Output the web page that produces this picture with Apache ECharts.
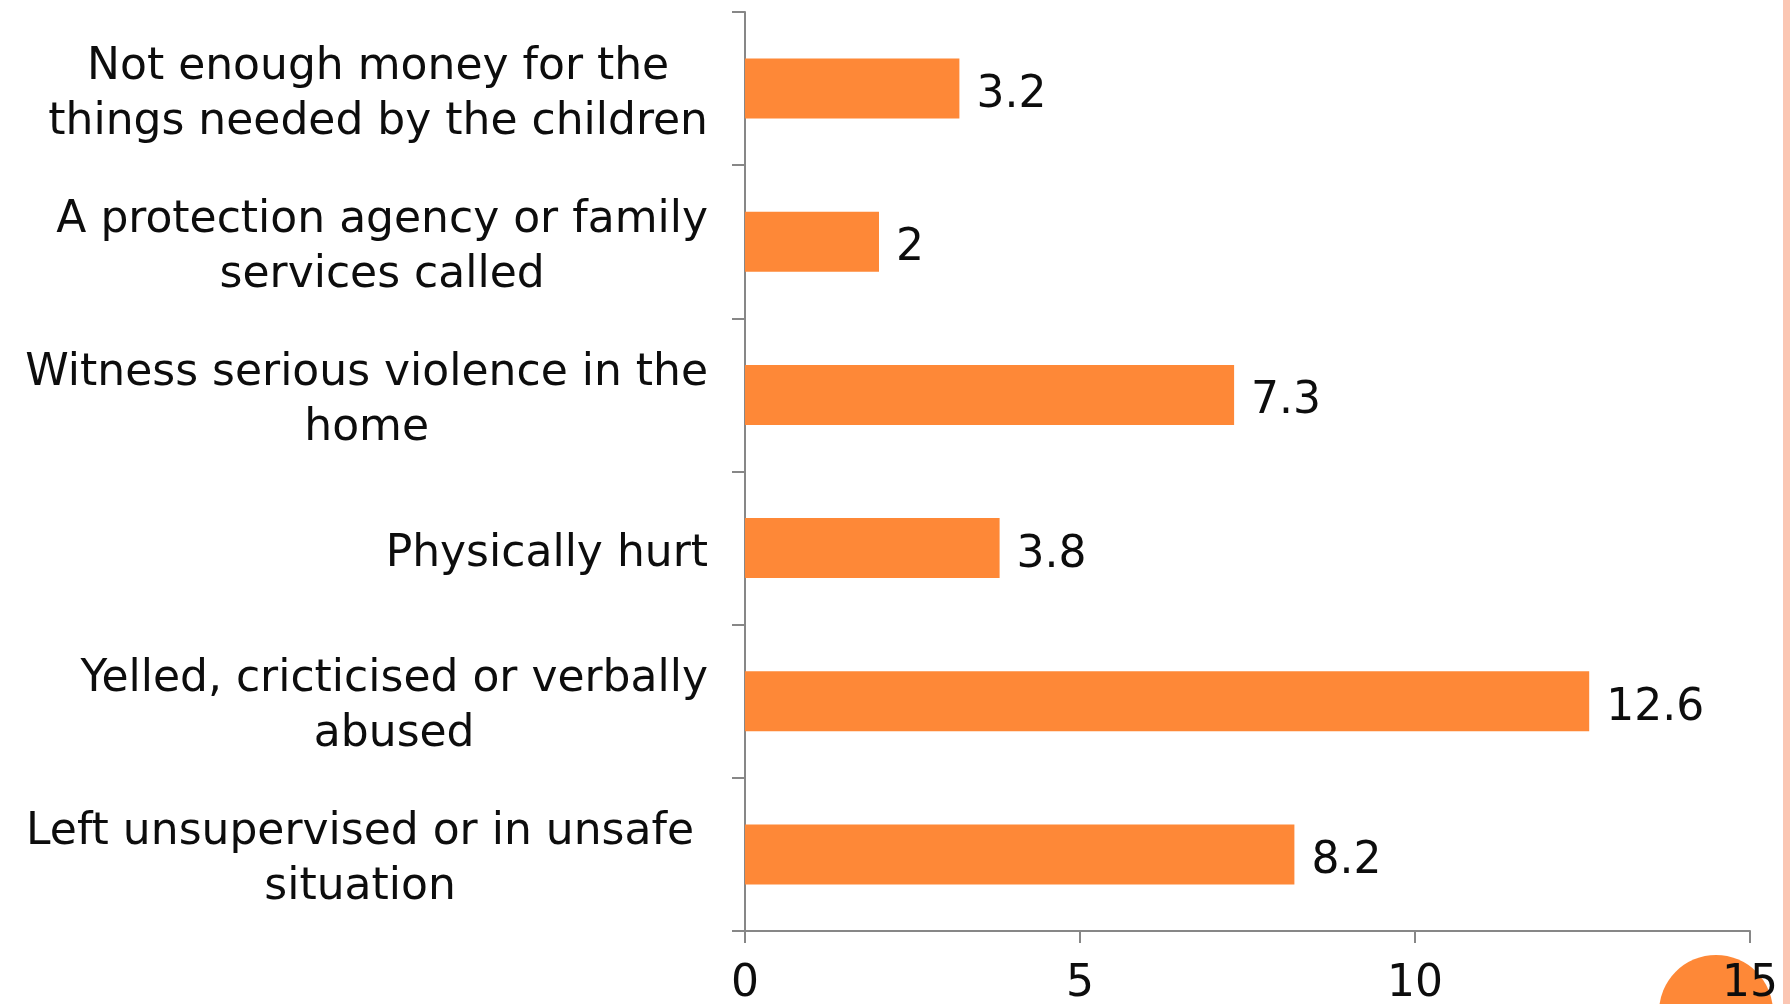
<!DOCTYPE html>
<html>
<head>
<meta charset="utf-8">
<script src="https://cdn.jsdelivr.net/npm/echarts@6/dist/echarts.min.js"></script>
<style>
html,body{margin:0;padding:0;background:#fff;}
#chart{width:1790px;height:1004px;}
</style>
</head>
<body>
<div id="chart"></div>
<script>
// Data (top to bottom as displayed)
const categories = [
  "Not enough money for the\nthings needed by the children",
  "A protection agency or family\nservices called",
  "Witness serious violence in the\nhome",
  "Physically hurt",
  "Yelled, cricticised or verbally\nabused",
  "Left unsupervised or in unsafe \nsituation"
];
const values = [3.2, 2, 7.3, 3.8, 12.6, 8.2];
const xTicks = { min: 0, max: 15, interval: 5 };

const FONT = 'DejaVu Sans';
const AXIS_COLOR = '#878787';
const BAR_COLOR = '#FE8837';
const TEXT_COLOR = '#0d0d0d';
const FS = 44;

function fmtCategory(v) {
  const lines = v.split('\n');
  let pad = '';
  lines.forEach(function (l) {
    const m = l.match(/\s+$/);
    if (m && m[0].length > pad.length) pad = m[0];
  });
  return lines.map(function (l) {
    return '{c|' + l.replace(/\s+$/, '') + '}' + (pad ? '{s|' + pad + '}' : '');
  }).join('\n');
}

const chart = echarts.init(document.getElementById('chart'), null, { renderer: 'canvas' });
chart.setOption({
  animation: false,
  backgroundColor: '#ffffff',
  grid: { left: 745, right: 40, top: 12, bottom: 73, containLabel: false, outerBoundsMode: 'none' },
  xAxis: {
    type: 'value',
    min: xTicks.min, max: xTicks.max, interval: xTicks.interval,
    z: 10,
    axisLine: { show: true, lineStyle: { color: AXIS_COLOR, width: 2 } },
    axisTick: { show: true, length: 12, lineStyle: { color: AXIS_COLOR, width: 2 } },
    splitLine: { show: false },
    axisLabel: { color: TEXT_COLOR, fontFamily: FONT, fontSize: FS, margin: 32 }
  },
  yAxis: {
    type: 'category',
    inverse: true,
    data: categories,
    axisLine: { show: true, lineStyle: { color: AXIS_COLOR, width: 2 } },
    axisTick: { show: true, length: 13, alignWithLabel: false, lineStyle: { color: AXIS_COLOR, width: 2 } },
    splitLine: { show: false },
    axisLabel: {
      margin: 37,
      interval: 0,
      padding: [12, 0, 0, 0],
      formatter: fmtCategory,
      rich: {
        c: { align: 'center', color: TEXT_COLOR, fontFamily: FONT, fontSize: FS, lineHeight: 55 },
        s: { align: 'right', color: TEXT_COLOR, fontFamily: FONT, fontSize: FS, lineHeight: 55 }
      }
    }
  },
  series: [{
    type: 'bar',
    data: values,
    barWidth: 60,
    itemStyle: { color: BAR_COLOR },
    label: {
      show: true, position: 'right', distance: 17, offset: [0, 7],
      color: TEXT_COLOR, fontFamily: FONT, fontSize: FS
    }
  }],
  graphic: [
    { type: 'rect', z: 0, shape: { x: 1783, y: 0, width: 7, height: 1004 }, style: { fill: '#FBC6B3' } },
    { type: 'circle', z: -1, shape: { cx: 1716, cy: 1012, r: 57 }, style: { fill: '#FE8837' } }
  ]
});
</script>
</body>
</html>
